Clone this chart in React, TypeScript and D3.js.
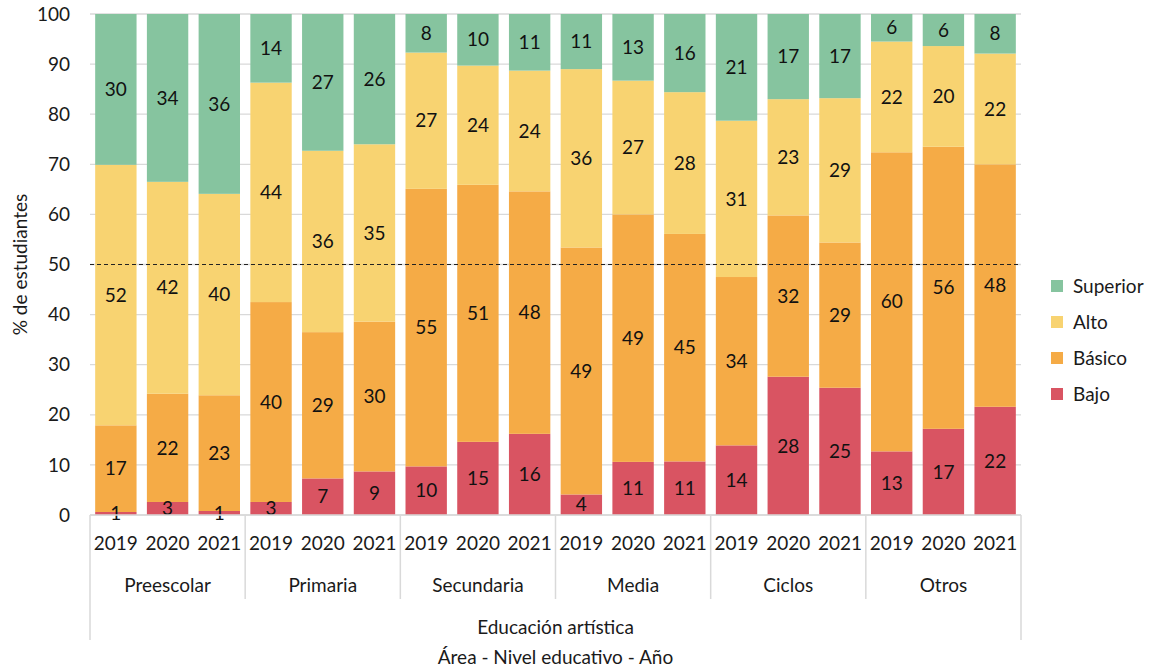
import React from "react";
import * as d3 from "d3";

const groups = ["Preescolar", "Primaria", "Secundaria", "Media", "Ciclos", "Otros"];
const years = ["2019", "2020", "2021"];
const seriesNames = ["Bajo", "Básico", "Alto", "Superior"];
const bajo = [0.6, 2.6, 0.8, 2.6, 7.3, 8.7, 9.7, 14.6, 16.2, 4.1, 10.6, 10.7, 13.9, 27.6, 25.4, 12.7, 17.2, 21.6];
const basico = [17.3, 21.6, 23.1, 39.9, 29.2, 29.9, 55.4, 51.3, 48.4, 49.3, 49.4, 45.4, 33.6, 32.2, 29.0, 59.7, 56.3, 48.4];
const alto = [52.0, 42.3, 40.2, 43.8, 36.2, 35.4, 27.2, 23.8, 24.1, 35.6, 26.7, 28.3, 31.2, 23.2, 28.8, 22.1, 20.1, 22.1];
const superior = [30.1, 33.5, 35.9, 13.7, 27.3, 26.0, 7.7, 10.3, 11.3, 11.0, 13.3, 15.6, 21.3, 17.0, 16.8, 5.5, 6.4, 7.9];
const yTicks = [0, 10, 20, 30, 40, 50, 60, 70, 80, 90, 100];
const colors = ["#D95462", "#F5AB46", "#F8D371", "#86C49F"];
const FONT = "Lato, 'Open Sans', sans-serif";
const FS = 19;

export default function App() {
  const W = 1152, H = 667;
  const left = 90, right = 1021, top = 14, bottom = 515;
  const keys = groups.flatMap((g) => years.map((y) => g + "|" + y));
  const rows = keys.map((k, i) => ({ key: k, Bajo: bajo[i], "Básico": basico[i], Alto: alto[i], Superior: superior[i] }));
  const x = d3.scaleBand<string>().domain(keys).range([left, right]).paddingInner(0.2).paddingOuter(0.1);
  const y = d3.scaleLinear().domain([0, 100]).range([bottom, top]);
  const stacked = d3.stack<any>().keys(seriesNames)(rows);
  const groupW = (right - left) / groups.length;

  return (
    <svg width={W} height={H} style={{ position: "absolute", left: 0, top: 0, background: "#fff" }} fontFamily={FONT}>
      {yTicks.map((t) => (
        <g key={t}>
          <line x1={left} x2={right} y1={y(t)} y2={y(t)} stroke="#d9d9d9" strokeWidth={1.3} />
          <text x={70} y={y(t)} dy="0.35em" textAnchor="end" fontSize={FS} fill="#1a1a1a">{t}</text>
        </g>
      ))}
      {stacked.map((s, si) => (
        <g key={s.key}>
          {s.map((d, i) => (
            <rect key={i} x={x(keys[i])} width={x.bandwidth()} y={y(d[1])} height={y(d[0]) - y(d[1])} fill={colors[si]} />
          ))}
        </g>
      ))}
      <line x1={left} x2={right} y1={y(50)} y2={y(50)} stroke="#222" strokeWidth={1} strokeDasharray="4,3" />
      {stacked.map((s) => (
        <g key={s.key + "l"}>
          {s.map((d, i) => (
            <text key={i} x={(x(keys[i]) as number) + x.bandwidth() / 2} y={y((d[0] + d[1]) / 2)} dy="0.35em"
              textAnchor="middle" fontSize={FS} fill="#111">{Math.round(d[1] - d[0])}</text>
          ))}
        </g>
      ))}
      {/* category axis */}
      <line x1={left} x2={right} y1={bottom} y2={bottom} stroke="#d9d9d9" strokeWidth={1.5} />
      {groups.map((g, gi) => (
        <g key={g}>
          {gi > 0 && <line x1={left + gi * groupW} x2={left + gi * groupW} y1={bottom} y2={599} stroke="#d9d9d9" strokeWidth={1.5} />}
          <text x={left + (gi + 0.5) * groupW} y={585} dy="0.35em" textAnchor="middle" fontSize={FS} fill="#1a1a1a">{g}</text>
        </g>
      ))}
      <line x1={left} x2={left} y1={bottom} y2={640} stroke="#d9d9d9" strokeWidth={1.5} />
      <line x1={right} x2={right} y1={bottom} y2={640} stroke="#d9d9d9" strokeWidth={1.5} />
      {keys.map((k) => (
        <text key={k + "y"} x={(x(k) as number) + x.bandwidth() / 2} y={543} dy="0.35em" textAnchor="middle" fontSize={FS} fill="#1a1a1a">{k.split("|")[1]}</text>
      ))}
      <text x={(left + right) / 2} y={627} dy="0.35em" textAnchor="middle" fontSize={FS} fill="#1a1a1a">Educación artística</text>
      <text x={(left + right) / 2} y={657} dy="0.35em" textAnchor="middle" fontSize={FS} fill="#1a1a1a">Área - Nivel educativo - Año</text>
      <text transform={`translate(20,${(top + bottom) / 2}) rotate(-90)`} dy="0.35em" textAnchor="middle" fontSize={FS} fill="#1a1a1a">% de estudiantes</text>
      {/* legend */}
      {seriesNames.slice().reverse().map((n, i) => (
        <g key={n} transform={`translate(1051,${286 + i * 36})`}>
          <rect x={0} y={-6} width={12} height={12} fill={colors[seriesNames.length - 1 - i]} />
          <text x={22} y={0} dy="0.35em" fontSize={FS} fill="#1a1a1a">{n}</text>
        </g>
      ))}
    </svg>
  );
}
